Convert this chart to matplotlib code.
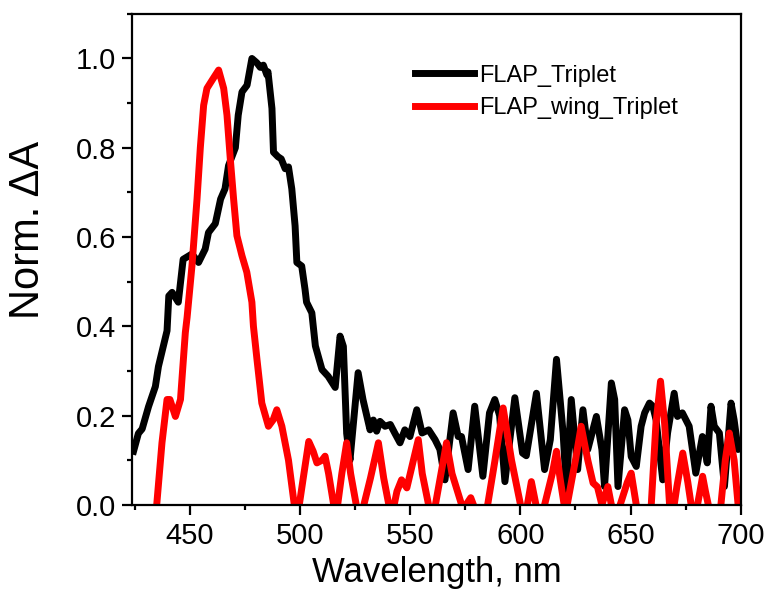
import numpy as np
import matplotlib
matplotlib.use("Agg")
from matplotlib import pyplot as plt
from matplotlib.ticker import MultipleLocator

plt.rcParams['font.family'] = ['Liberation Sans', 'DejaVu Sans']

# FLAP_Triplet (black)
wl_flap = [424.5, 426.7, 428.4, 431.3, 434.4, 435.8, 439.7, 440.5, 442, 444.8,
           447, 451, 454, 457, 458.5, 461.6, 464, 466, 467.6, 470.7,
           472, 473.7, 476, 478.2, 480.5, 482, 483.4, 485, 485.5, 487.3,
           488, 490, 491.5, 493.3, 494.8, 496.3, 497.8, 498.6, 500.8, 502.3,
           503, 504.6, 505.4, 507, 510, 512.8, 516, 518.2, 519.7, 521.2,
           522.7, 526.4, 528.6, 531.8, 533.3, 534.8, 536.3, 538.6, 541, 543,
           545.4, 547.6, 549.9, 553, 555.4, 558.4, 561.3, 563.5, 565.8, 569.5,
           571.8, 573.3, 576.3, 579.3, 583, 586, 588.4, 590.6, 593, 597.5,
           601, 602.7, 607.3, 611, 613.6, 616.4, 619.4, 620.9, 623.1, 626,
           628.4, 630.6, 634.5, 637, 638.2, 641.3, 642.8, 644.3, 647.3, 648.8,
           650.3, 652.6, 654.8, 656.4, 658.6, 660.1, 661.6, 664.6, 666.8, 669.8,
           671.3, 673.5, 676.6, 679.6, 682.6, 684.8, 686.5, 688, 690.3, 692.6,
           695.6, 697, 698.8, 700]
a_flap = [0.12, 0.16, 0.17, 0.22, 0.265, 0.31, 0.39, 0.468, 0.476, 0.454,
          0.55, 0.562, 0.543, 0.573, 0.61, 0.63, 0.685, 0.708, 0.76, 0.80,
          0.873, 0.925, 0.94, 1.0, 0.99, 0.98, 0.985, 0.963, 0.97, 0.888,
          0.79, 0.78, 0.775, 0.753, 0.757, 0.708, 0.625, 0.543, 0.535, 0.483,
          0.454, 0.438, 0.43, 0.356, 0.303, 0.288, 0.263, 0.378, 0.355, 0.16,
          0.10, 0.296, 0.236, 0.168, 0.19, 0.165, 0.187, 0.176, 0.18, 0.161,
          0.139, 0.168, 0.153, 0.213, 0.161, 0.168, 0.146, 0.124, 0.056, 0.206,
          0.153, 0.153, 0.079, 0.221, 0.064, 0.206, 0.236, 0.2, 0.052, 0.24,
          0.116, 0.11, 0.25, 0.079, 0.146, 0.326, 0.161, 0.034, 0.236, 0.079,
          0.213, 0.124, 0.198, 0.124, 0.041, 0.273, 0.236, 0.041, 0.213, 0.19,
          0.108, 0.086, 0.176, 0.206, 0.228, 0.221, 0.19, 0.056, 0.161, 0.25,
          0.198, 0.206, 0.176, 0.071, 0.153, 0.094, 0.221, 0.176, 0.161, 0.041,
          0.228, 0.19, 0.124, 0.13]

# FLAP_wing_Triplet (red)
wl_wing = [434.5, 437.4, 439.7, 441, 443.5, 445.8, 448, 448.8, 451, 453.3,
           454.8, 456.3, 457.8, 460.1, 463.1, 465.4, 466.9, 468.4, 469.9, 471.4,
           473.7, 475.9, 478.2, 478.9, 480.5, 482.7, 485.7, 487.8, 489.5, 491.8,
           494.8, 498.5, 501.5, 504, 506, 507.7, 510, 511.4, 513, 516.3,
           519, 521.2, 523, 527, 532, 535.6, 538, 541.5, 544, 546.1,
           548.5, 551, 553.7, 555.5, 560, 564, 566.5, 569, 574, 577.5,
           581, 585, 588.5, 592.2, 596, 600.5, 603, 605, 607.3, 610,
           614.5, 616.4, 618, 620.5, 625, 627.6, 630.6, 633, 635, 637,
           639.7, 641.3, 644, 648.5, 650.3, 652.6, 656, 659.4, 661.5, 663.6,
           665.5, 667.7, 669.5, 671, 673.7, 676, 677.5, 680, 681.5, 682.7,
           684, 685.5, 688, 691, 693, 694.8, 697, 698.8, 700]
a_wing = [-0.03, 0.139, 0.236, 0.236, 0.198, 0.236, 0.386, 0.42, 0.535, 0.685,
          0.80, 0.895, 0.933, 0.951, 0.974, 0.933, 0.873, 0.775, 0.685, 0.603,
          0.558, 0.521, 0.454, 0.40, 0.326, 0.228, 0.176, 0.19, 0.213, 0.176,
          0.10, -0.04, 0.06, 0.142, 0.12, 0.094, 0.10, 0.109, 0.07, -0.03,
          0.07, 0.139, 0.07, -0.04, 0.06, 0.139, 0.06, -0.03, 0.03, 0.056,
          0.038, 0.09, 0.146, 0.07, -0.04, 0.07, 0.139, 0.07, -0.01, 0.016,
          -0.03, -0.005, 0.10, 0.217, 0.10, -0.01, -0.005, 0.052, -0.005, -0.02,
          0.07, 0.12, 0.06, -0.02, 0.10, 0.176, 0.10, 0.049, 0.04, 0.0,
          0.041, 0.0, -0.02, 0.05, 0.071, 0.0, -0.04, 0.0, 0.18, 0.277,
          0.18, 0.0, -0.01, 0.04, 0.116, 0.05, 0.0, -0.01, 0.03, 0.064,
          0.03, -0.005, -0.03, 0.0, 0.10, 0.161, 0.10, 0.0, -0.02]

fig = plt.figure(figsize=(7.7, 6.01), dpi=100)
ax = fig.add_axes([0.172, 0.160, 0.790, 0.817])

ax.plot(wl_flap, a_flap, color='black', lw=5, solid_joinstyle='round',
        label='FLAP_Triplet')
ax.plot(wl_wing, a_wing, color='#ff0000', lw=5, solid_joinstyle='round',
        label='FLAP_wing_Triplet')

ax.set_xlim(424, 700)
ax.set_ylim(0, 1.1)
ax.xaxis.set_major_locator(MultipleLocator(50))
ax.xaxis.set_minor_locator(MultipleLocator(25))
ax.yaxis.set_major_locator(MultipleLocator(0.2))
ax.yaxis.set_minor_locator(MultipleLocator(0.1))
ax.yaxis.set_major_formatter(plt.FuncFormatter(lambda v, p: f"{v:.1f}"))

for s in ax.spines.values():
    s.set_linewidth(1.6)
ax.tick_params(which='major', direction='out', length=7, width=1.6,
               labelsize=21, pad=5)
ax.tick_params(which='minor', direction='out', length=3.5, width=1.6)

ax.set_xlabel('Wavelength, nm', fontsize=25, labelpad=5)
ax.set_ylabel('Norm. ΔA', fontsize=30)
ax.yaxis.set_label_coords(-0.138, 0.56)

ax.legend(loc='upper left', bbox_to_anchor=(0.43, 0.94), frameon=False,
          fontsize=17, handlelength=2.5, handletextpad=0.2, labelspacing=0.45)

fig.savefig('out.png', dpi=100)
